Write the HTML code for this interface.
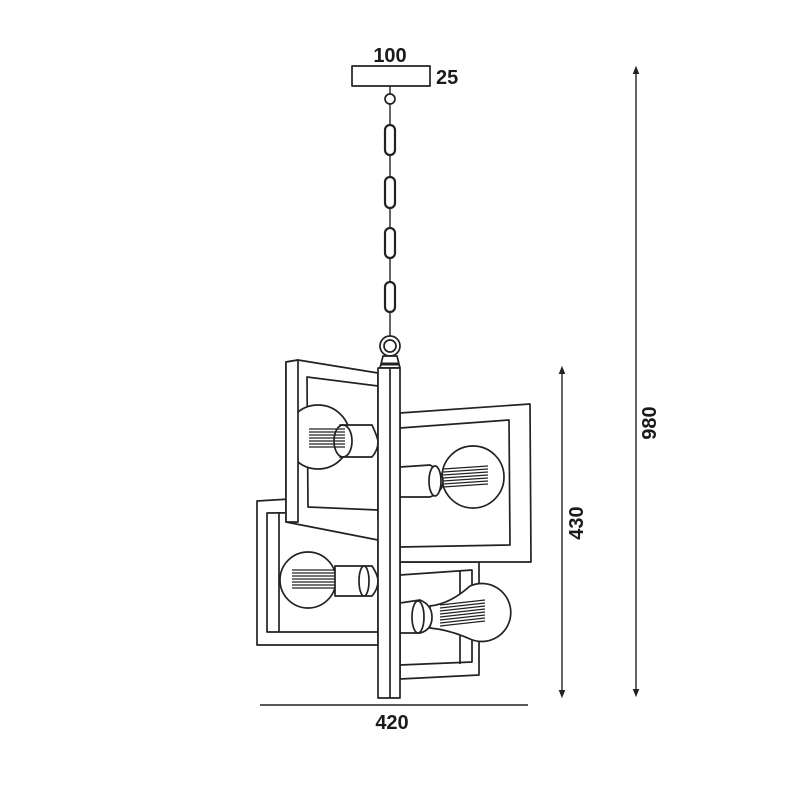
<!DOCTYPE html>
<html><head><meta charset="utf-8"><style>
html,body{margin:0;padding:0;background:#fff}
svg{display:block}
text{font-family:"Liberation Sans",Arial,sans-serif;font-weight:bold;fill:#1a1a1a}
</style></head><body>
<svg width="787" height="787" viewBox="0 0 787 787" xmlns="http://www.w3.org/2000/svg">
<defs>
<marker id="a" viewBox="0 0 10 10" refX="5" refY="5" markerWidth="6" markerHeight="6" orient="auto-start-reverse"><path d="M0,1 L10,5 L0,9 Z" fill="#222"/></marker>
</defs>
<g stroke="#222" stroke-width="1.7" fill="#fff" stroke-linejoin="round">
<!-- canopy -->
<rect x="352" y="66" width="78" height="20"/>
<!-- chain -->
<line x1="390" y1="86" x2="390" y2="340" stroke-width="1.4"/>
<circle cx="390" cy="99" r="5"/>
<rect x="385" y="125" width="10" height="30" rx="5" stroke-width="2.2"/>
<rect x="385" y="177" width="10" height="31" rx="5" stroke-width="2.2"/>
<rect x="385" y="228" width="10" height="30" rx="5" stroke-width="2.2"/>
<rect x="385" y="282" width="10" height="30" rx="5" stroke-width="2.2"/>
<circle cx="390" cy="346" r="10"/>
<circle cx="390" cy="346" r="6"/>
<path d="M383,356 L397,356 L400,368 L380,368 Z" fill="#fff"/>
<line x1="381" y1="364" x2="399" y2="364" stroke-width="3"/>

<!-- lower-right frame -->
<path d="M400,562 L479,562 L479,675 L400,679 Z"/>
<path d="M400,575 L472,570 L472,662 L400,665 Z"/>
<line x1="460" y1="570" x2="460" y2="664"/>
<!-- lower-right bulb -->
<path d="M470,586 A29,29 0 1 1 470,639 Q450,630 430,628 L430,606 Q450,604 470,586 Z"/>
<path d="M400,603 L420,600 Q432,605 432,617 Q432,630 420,633 L400,633 Z"/>
<ellipse cx="418" cy="617" rx="6" ry="16"/>
<g stroke-width="1.3">
<line x1="440" y1="605" x2="485" y2="600"/><line x1="440" y1="608" x2="485" y2="603"/>
<line x1="440" y1="611" x2="485" y2="606"/><line x1="440" y1="614" x2="485" y2="609"/>
<line x1="440" y1="617" x2="485" y2="612"/><line x1="440" y1="620" x2="485" y2="615"/>
<line x1="440" y1="623" x2="485" y2="618"/><line x1="440" y1="626" x2="485" y2="621"/>
</g>

<!-- lower-left frame -->
<path d="M257,501 L290,499 L378,510 L378,645 L257,645 Z"/>
<path d="M267,513 L378,512 L378,632 L267,632 Z"/>
<line x1="279" y1="513" x2="279" y2="632"/>
<circle cx="308" cy="580" r="28"/>
<path d="M335,566 L372,566 Q378,575 378,581 Q378,589 372,596 L335,596 Z"/>
<ellipse cx="364" cy="581" rx="5" ry="15"/>
<g stroke-width="1.3">
<line x1="292" y1="570" x2="335" y2="570"/><line x1="292" y1="573" x2="335" y2="573"/>
<line x1="292" y1="576" x2="335" y2="576"/><line x1="292" y1="579" x2="335" y2="579"/>
<line x1="292" y1="582" x2="335" y2="582"/><line x1="292" y1="585" x2="335" y2="585"/>
<line x1="292" y1="588" x2="335" y2="588"/>
</g>

<!-- upper-left frame -->
<path d="M286,362 L298,360 L378,373 L378,520 L479,535 L479,547 L378,540 L286,522 Z"/>
<path d="M307,377 L378,386 L378,510 L308,507 Z"/>
<circle cx="318" cy="437" r="32"/>
<path d="M340,425 L372,425 Q378,438 378,442 Q378,450 372,457 L340,457 Z"/>
<ellipse cx="343" cy="441" rx="9" ry="16"/>
<g stroke-width="1.3">
<line x1="309" y1="429" x2="345" y2="429"/><line x1="309" y1="432" x2="345" y2="432"/>
<line x1="309" y1="435" x2="345" y2="435"/><line x1="309" y1="438" x2="345" y2="438"/>
<line x1="309" y1="441" x2="345" y2="441"/><line x1="309" y1="444" x2="345" y2="444"/>
<line x1="309" y1="447" x2="345" y2="447"/>
</g>
<path d="M286,362 L298,360 L298,522 L286,522 Z"/>
<path d="M298,360 L307,377 L307,507"  fill="none" stroke="none"/>

<!-- upper-right frame -->
<path d="M400,413 L530,404 L531,562 L400,562 Z"/>
<path d="M400,428 L509,420 L510,545 L400,547 Z"/>
<circle cx="473" cy="477" r="31"/>
<path d="M400,467 L430,465 Q443,472 443,481 Q443,492 430,497 L400,497 Z"/>
<ellipse cx="435" cy="481" rx="6" ry="15"/>
<g stroke-width="1.3">
<line x1="443" y1="469" x2="488" y2="466"/><line x1="443" y1="472" x2="488" y2="469"/>
<line x1="443" y1="475" x2="488" y2="472"/><line x1="443" y1="478" x2="488" y2="475"/>
<line x1="443" y1="481" x2="488" y2="478"/><line x1="443" y1="484" x2="488" y2="481"/>
<line x1="443" y1="487" x2="488" y2="484"/>
</g>

<!-- rod -->
<rect x="378" y="368" width="22" height="330"/>
<line x1="390" y1="368" x2="390" y2="698"/>
</g>

<!-- dimensions -->
<g stroke="#222" stroke-width="1.4">
<line x1="636" y1="70" x2="636" y2="693" marker-start="url(#a)" marker-end="url(#a)"/>
<line x1="562" y1="370" x2="562" y2="694" marker-start="url(#a)" marker-end="url(#a)"/>
<line x1="260" y1="705" x2="528" y2="705"/>
</g>
<text x="390" y="62" font-size="20" text-anchor="middle">100</text>
<text x="436" y="84" font-size="20">25</text>
<text x="392" y="729" font-size="20" text-anchor="middle">420</text>
<text x="0" y="0" font-size="20" text-anchor="middle" transform="translate(583,523) rotate(-90)">430</text>
<text x="0" y="0" font-size="20" text-anchor="middle" transform="translate(656,423) rotate(-90)">980</text>
</svg>
</body></html>
